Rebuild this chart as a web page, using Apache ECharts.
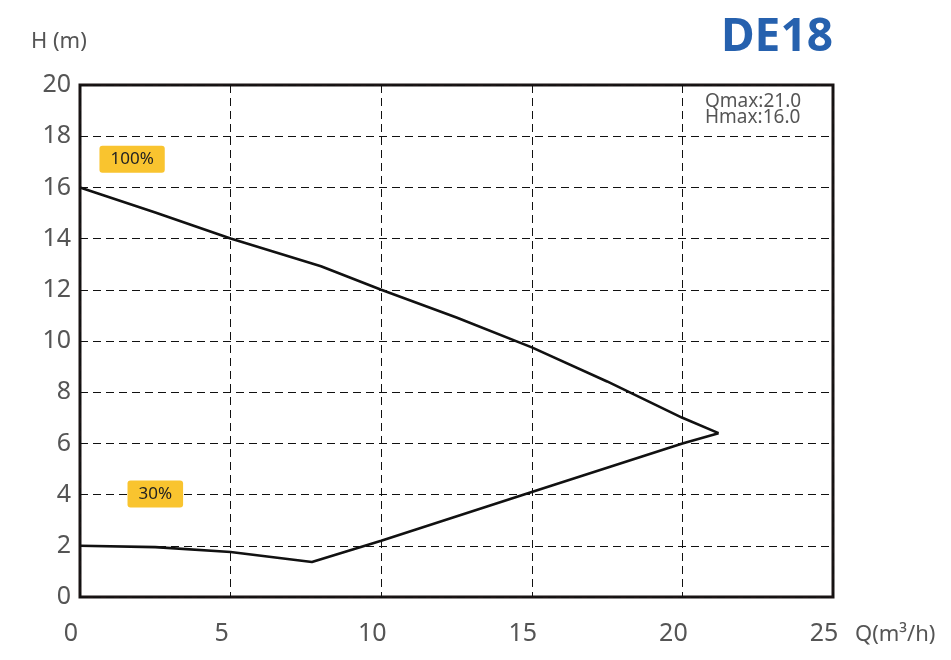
<!DOCTYPE html>
<html>
<head>
<meta charset="utf-8">
<script src="https://cdn.jsdelivr.net/npm/echarts@6/dist/echarts.min.js"></script>
<style>html,body{margin:0;padding:0;background:#fff}#c{width:951px;height:660px}</style>
</head>
<body>
<div id="c"></div>
<script>
// Data
var xTicks = [0, 5, 10, 15, 20, 25];
var yTicks = [0, 2, 4, 6, 8, 10, 12, 14, 16, 18, 20];
var curve100Q = [0, 2.5, 5, 8, 10, 12.5, 15, 17.5, 20, 21.2];
var curve100H = [16, 15.02, 14.0, 12.92, 12.0, 10.92, 9.75, 8.42, 7.0, 6.4];
var curve30Q = [0, 2.5, 5, 7.7, 10, 15, 20, 21.2];
var curve30H = [2.0, 1.95, 1.76, 1.37, 2.2, 4.1, 6.0, 6.4];
var tagNames = ['100%', '30%'];
var tagQ = [1.73, 2.5];
var tagH = [17.1, 4.02];
var title = 'DE18';
var infoLines = ['Qmax:21.0', 'Hmax:16.0'];

function pairs(a, b) { return a.map(function (v, i) { return [v, b[i]]; }); }

var chart = echarts.init(document.getElementById('c'), null, { renderer: 'canvas' });
var labelFont = { fontSize: 25, color: '#555', fontFamily: 'Noto Sans, Liberation Sans, sans-serif' };

chart.setOption({
  animation: false,
  backgroundColor: '#fff',
  grid: { left: 80, right: 118, top: 85, bottom: 63, show: true, borderWidth: 3, borderColor: '#1a1414', backgroundColor: 'transparent', containLabel: false },
  xAxis: {
    type: 'value', min: 0, max: 25, interval: 5,
    name: 'Q(m³/h)', nameLocation: 'end', nameGap: 22,
    nameTextStyle: { fontSize: 22, color: '#555', fontFamily: 'Noto Sans, sans-serif', verticalAlign: 'top', padding: [27, 0, 0, 0] },
    axisLine: { show: false }, axisTick: { show: false },
    axisLabel: Object.assign({ margin: 24, padding: [0, 18, 0, 0] }, labelFont),
    splitLine: { show: true, lineStyle: { color: '#111', width: 1, type: [8, 5] } }
  },
  yAxis: {
    type: 'value', min: 0, max: 20, interval: 2,
    axisLine: { show: false }, axisTick: { show: false },
    axisLabel: Object.assign({ margin: 9 }, labelFont),
    splitLine: { show: true, lineStyle: { color: '#111', width: 1, type: [8, 5] } }
  },
  series: [
    { type: 'line', data: pairs(curve100Q, curve100H), showSymbol: false, smooth: false, lineStyle: { color: '#111', width: 2.6 }, z: 5 },
    { type: 'line', data: pairs(curve30Q, curve30H), showSymbol: false, smooth: false, lineStyle: { color: '#111', width: 2.6 }, z: 5 },
    {
      type: 'scatter', symbolSize: 0, z: 10, itemStyle: { opacity: 1 },
      data: tagNames.map(function (n, i) { return { value: [tagQ[i], tagH[i]], name: n }; }),
      label: {
        show: true, position: 'inside', formatter: '{b}',
        fontSize: 17, color: '#222', fontFamily: 'Noto Sans, sans-serif',
        backgroundColor: '#F9C42F', borderRadius: 3, padding: [6, 11, 4, 11]
      }
    }
  ],
  graphic: [
    { type: 'text', right: 118, top: 15, style: { text: title, fontSize: 46, fontWeight: 'bold', fill: '#2661AE', fontFamily: 'Noto Sans, sans-serif' } },
    { type: 'text', left: 31, top: 31, style: { text: 'H (m)', fontSize: 22, fill: '#555', fontFamily: 'Noto Sans, sans-serif' } },
    { type: 'text', left: 705, top: 92, style: { text: infoLines.join('\n'), fontSize: 19, lineHeight: 16, fill: '#555', fontFamily: 'Noto Sans, sans-serif' } }
  ]
});
</script>
</body>
</html>
